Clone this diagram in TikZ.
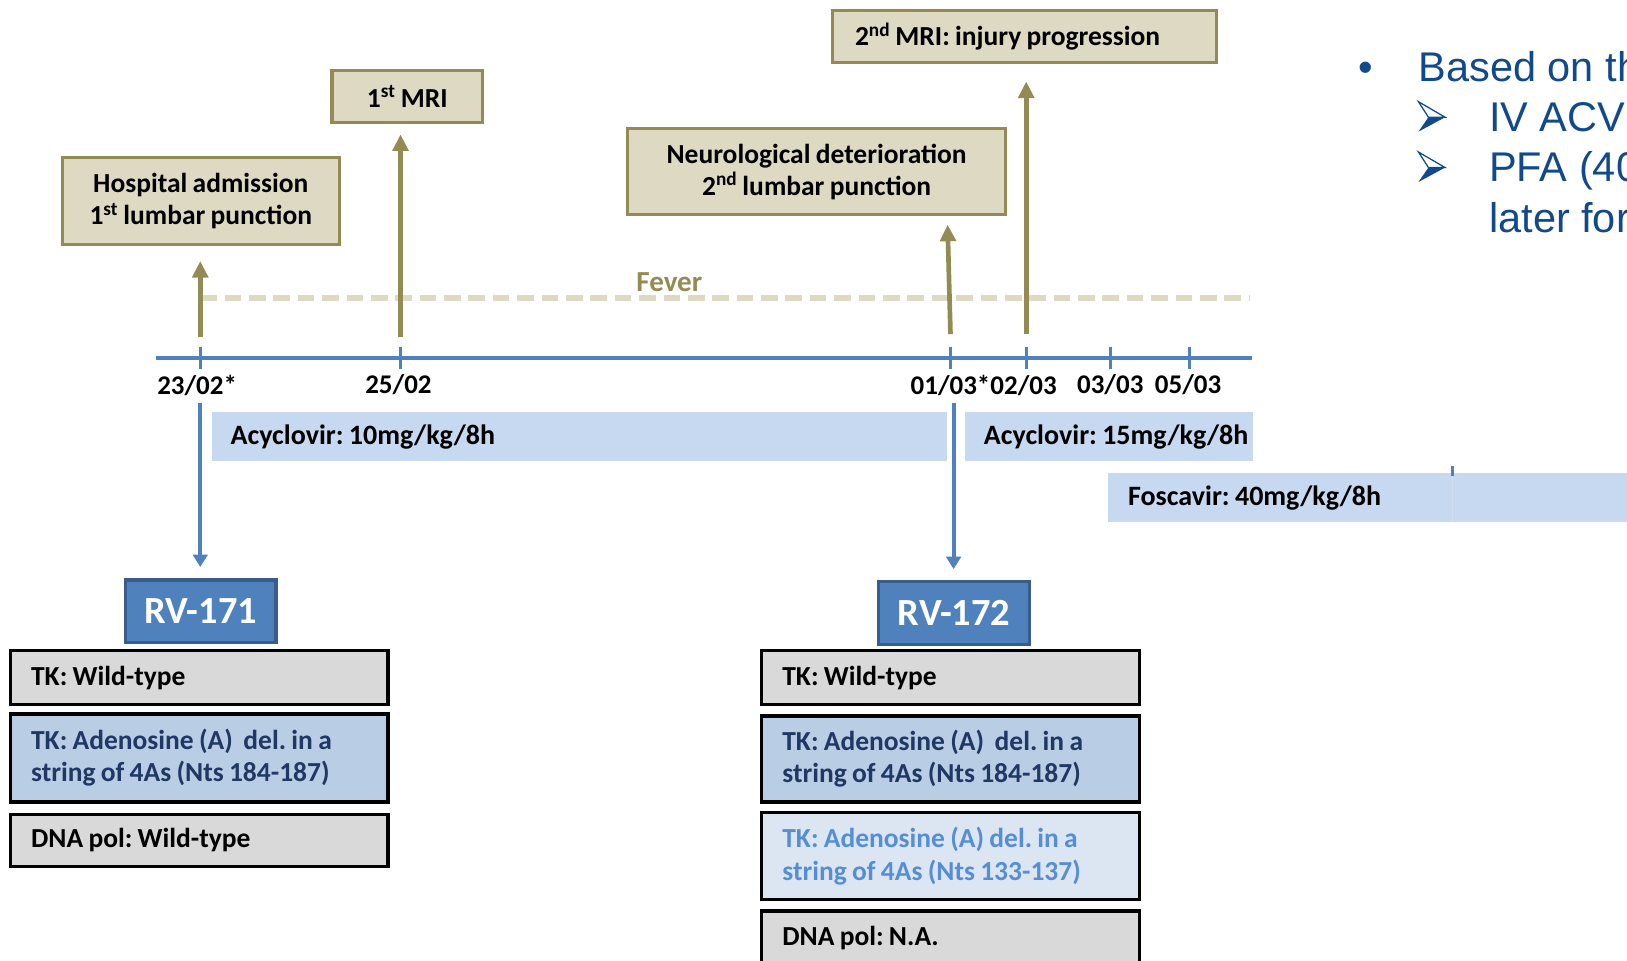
\documentclass[tikz,border=0pt]{standalone}
\usepackage{fontspec}
\setmainfont{Carlito}[WordSpace=0.85]
\newfontfamily\arialf{Liberation Sans}
\usetikzlibrary{arrows.meta}
\frenchspacing
\definecolor{olive}{HTML}{948A54}
\definecolor{beige}{HTML}{DDD9C3}
\definecolor{tlblue}{HTML}{4F81BD}
\definecolor{barblue}{HTML}{C6D9F1}
\definecolor{rvborder}{HTML}{385D8A}
\definecolor{grayfill}{HTML}{D9D9D9}
\definecolor{midblue}{HTML}{B9CDE5}
\definecolor{navytext}{HTML}{1F3864}
\definecolor{paleblue}{HTML}{DCE6F2}
\definecolor{lighttext}{HTML}{558ED5}
\definecolor{slidetext}{HTML}{114A8B}
\begin{document}
\begin{tikzpicture}[x=1pt,y=-1pt,
  evbox/.style={draw=olive, line width=3pt, fill=beige, font=\fontsize{26.5}{31}\selectfont\bfseries, align=center, inner sep=0pt},
  oarrow/.style={draw=olive, line width=4.5pt, -{Triangle[width=15pt,length=16pt]}},
  barrow/.style={draw=tlblue, line width=4pt, -{Triangle[width=14pt,length=12pt]}},
  tlline/.style={draw=tlblue, line width=3.5pt},
  tickmark/.style={draw=tlblue, line width=3pt},
  fever/.style={draw=beige, line width=6pt, dash pattern=on 16pt off 7.5pt},
  lbl/.style={font=\fontsize{26}{30}\selectfont\bfseries, inner sep=0pt},
  barbox/.style={fill=barblue, inner sep=0pt, anchor=north west, minimum height=47pt},
  bartext/.style={font=\fontsize{27}{30}\selectfont\bfseries, anchor=west, inner sep=0pt},
  rvbox/.style={fill=tlblue, draw=rvborder, line width=3pt, minimum width=145pt, minimum height=60pt, font=\fontsize{37}{42}\selectfont\bfseries, text=white, inner sep=0pt},
  stackbox/.style={draw=black, line width=3.5pt, minimum width=364pt, text width=324pt, inner xsep=20pt, inner ysep=0pt, align=flush left, font=\fontsize{26.5}{31}\selectfont\bfseries},
  gbox/.style={stackbox, fill=grayfill},
  mbox/.style={stackbox, fill=midblue, text=navytext},
  lbox/.style={stackbox, fill=paleblue, text=lighttext},
  slide/.style={font=\arialf\fontsize{40}{48}\selectfont, text=slidetext, inner sep=0pt, anchor=base west},
  subbul/.pic={
    \fill[slidetext] (9.6,15) -- (25.7,15) -- (0,28.9) -- cycle;
    \draw[slidetext, line width=1.2pt, fill=white, line join=miter] (0,0) -- (25.7,15) -- (9.6,15) -- cycle;
  }
]
\useasboundingbox (0,0) rectangle (1568,926);

% event boxes
\node[evbox, minimum width=267pt, minimum height=84pt] (hosp) at (193.5,194) {Hospital admission\\1\textsuperscript{st} lumbar punction};
\node[evbox, minimum width=145pt, minimum height=50pt] (mri1) at (392.5,93) {1\textsuperscript{st} MRI};
\node[evbox, minimum width=364pt, minimum height=83pt] (neuro) at (787,165.5) {Neurological deterioration\\2\textsuperscript{nd} lumbar punction};
\node[evbox, minimum width=370pt, minimum height=50pt, text width=326pt, inner xsep=22pt, align=flush left] (mri2) at (987,35) {2\textsuperscript{nd} MRI: injury progression};

% fever
\coordinate (fvL) at (193,287);
\coordinate (fvR) at (1205,287);
\draw[fever] (fvL) -- (fvR);
\node[font=\fontsize{28}{30}\selectfont\bfseries, text=olive, inner sep=0pt] (fevtxt) at (645,272) {Fever};

% timeline
\coordinate (axL) at (150,345);
\coordinate (axR) at (1207,345);
\draw[tlline] (axL) -- (axR);
\coordinate (t1) at (193,345);
\coordinate (t2) at (386,345);
\coordinate (t3) at (916,345);
\coordinate (t4) at (989,345);
\coordinate (t5) at (1070,345);
\coordinate (t6) at (1146,345);
\foreach \t in {t1,t2,t3,t4,t5,t6} \draw[tickmark] ([yshift=11pt]\t) -- ([yshift=-11pt]\t);

\node[lbl] (d1) at (190,371) {23/02*};
\node[lbl] (d2) at (384,371) {25/02};
\node[lbl] (d3) at (948,371) {01/03*02/03};
\node[lbl] (d5) at (1070,371) {03/03};
\node[lbl] (d6) at (1145,371) {05/03};

% olive arrows
\coordinate (a1) at (193,325);
\coordinate (a2) at (386,325);
\coordinate (a3) at (916,322);
\coordinate (a4) at (989,322);
\draw[oarrow, shorten >=14pt] (a1) -- (a1 |- hosp.south);
\draw[oarrow, shorten >=10pt] (a2) -- (a2 |- mri1.south);
\draw[oarrow, shorten >=8pt] (a3) -- ([xshift=126pt]neuro.south);
\draw[oarrow, shorten >=17pt] (a4) -- (a4 |- mri2.south);

% treatment bars
\node[barbox, minimum width=708pt] (acy1) at (204,397) {};
\node[bartext] (acy1t) at (222,421) {Acyclovir: 10mg/kg/8h};
\node[barbox, minimum width=277pt] (acy2) at (930,397) {};
\node[bartext] (acy2t) at (948,421) {Acyclovir: 15mg/kg/8h};
\node[barbox, minimum width=520pt] (fosc) at (1068,456) {};
\node[bartext] (fosct) at (1087,480) {Foscavir: 40mg/kg/8h};
\draw[tlblue, line width=2.5pt] (1400,449) -- (1400,459);
\draw[tlblue!25, line width=1.2pt] (1400,459) -- (1400,503);

% sample boxes
\node[rvbox] (rv1) at (193.5,589) {RV-171};
\node[rvbox, minimum height=61pt] (rv2) at (919.5,590.5) {RV-172};
\coordinate (b1) at (193,388);
\coordinate (b2) at (919,388);
\draw[barrow, shorten >=11pt] (b1) -- (b1 |- rv1.north);
\draw[barrow, shorten >=10pt] (b2) -- (b2 |- rv2.north);

% left stack
\node[gbox, minimum height=52pt] (l1) at (192,653) {TK: Wild-type};
\node[mbox, minimum height=85pt] (l2) at (192,730.5) {TK: Adenosine (A)\ \ del. in a\\string of 4As (Nts 184-187)};
\node[gbox, minimum height=50pt] (l3) at (192,810) {DNA pol: Wild-type};

% right stack
\node[gbox, minimum height=52pt] (r1) at (916,653) {TK: Wild-type};
\node[mbox, minimum height=83pt] (r2) at (916,731.5) {TK: Adenosine (A)\ \ del. in a\\string of 4As (Nts 184-187)};
\node[lbox, minimum height=84pt] (r3) at (916,825) {TK: Adenosine (A) del. in a\\string of 4As (Nts 133-137)};
\node[gbox, minimum height=52pt] (r4) at (916,904) {DNA pol: N.A.};

% slide text
\node[slide] (bul) at (1309,79) {•};
\node[slide] (s1) at (1367,79) {Based on th};
\pic at (1367,98) {subbul};
\node[slide] (s2) at (1435,127) {IV ACV};
\pic at (1367,146.5) {subbul};
\node[slide] (s3) at (1435,175) {PFA (40};
\node[slide] (s4) at (1435,224) {later for};
\end{tikzpicture}
\end{document}
